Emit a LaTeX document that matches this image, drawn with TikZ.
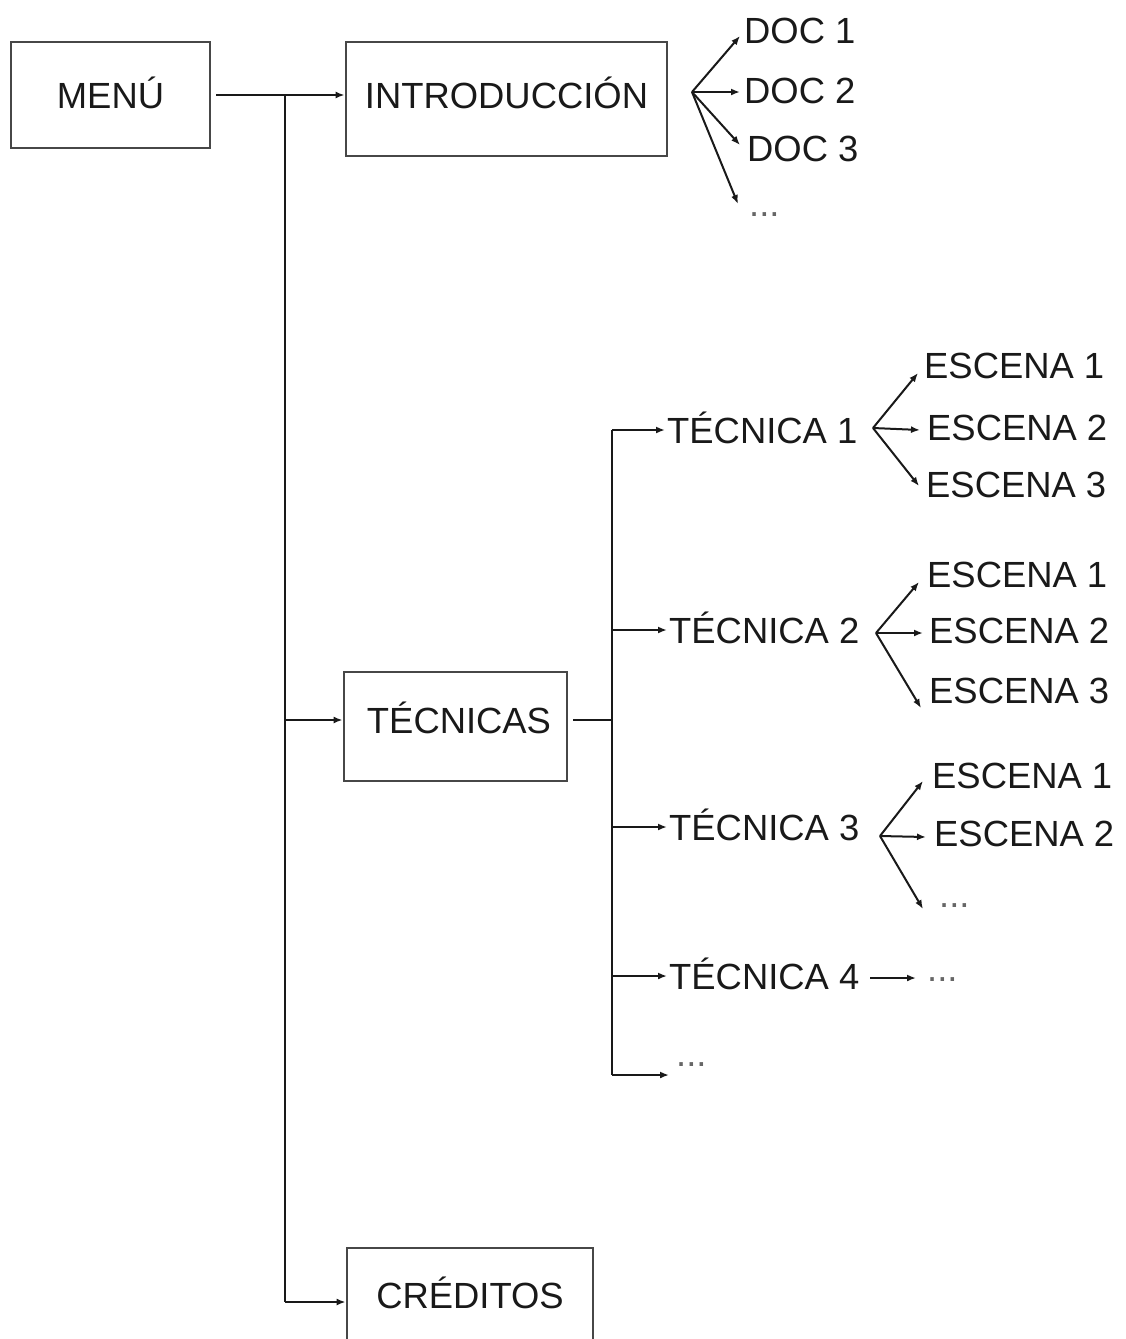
\documentclass[tikz,border=0pt]{standalone}
\usepackage{fontspec}
\setmainfont{Liberation Sans}
\usetikzlibrary{arrows.meta}
\begin{document}
\begin{tikzpicture}[x=1pt,y=-1pt,
  lbl/.style={inner sep=0pt, anchor=west, text height=26pt, text depth=0pt, font=\fontsize{36.4}{40}\selectfont, text=black!90},
  dotlbl/.style={lbl, anchor=base west, text=black!60},
  boxnode/.style={draw=black!72, line width=2.8pt, inner sep=0pt, font=\fontsize{36.4}{40}\selectfont, text=black!90, text height=26pt},
  ln/.style={line width=2pt, draw=black!90},
  arr/.style={ln, -{Latex[length=9pt,width=7pt]}}]
\useasboundingbox (0,0) rectangle (1125,1339);
\clip (0,0) rectangle (1125,1339);

% boxes
\node[boxnode, minimum width=199pt, minimum height=106pt, text depth=0pt] (menu) at (110.5,95) {MENÚ};
\node[boxnode, minimum width=321pt, minimum height=114pt, text depth=8pt] (intro) at (506.5,99) {INTRODUCCIÓN};
\node[boxnode, minimum width=223pt, minimum height=109pt, text depth=13pt] (tecn) at (455.5,726.5) {\hspace*{7pt}TÉCNICAS};
\node[boxnode, minimum width=246pt, minimum height=110pt, text depth=16pt] (cred) at (470,1303) {CRÉDITOS};

% DOC labels
\node[lbl] (d1) at (744,30) {DOC 1};
\node[lbl] (d2) at (744,90) {DOC 2};
\node[lbl] (d3) at (747,148) {DOC 3};
\node[dotlbl] (d4) at (749,216) {...};

% TECNICA labels
\node[lbl] (t1) at (667,430) {TÉCNICA 1};
\node[lbl] (t2) at (669,630) {TÉCNICA 2};
\node[lbl] (t3) at (669,827) {TÉCNICA 3};
\node[lbl] (t4) at (669,976) {TÉCNICA 4};
\node[dotlbl] (t4d) at (927,981) {...};
\node[dotlbl] (t5) at (676,1066) {...};

% ESCENA labels
\node[lbl] (e11) at (924,365) {ESCENA 1};
\node[lbl] (e12) at (927,427) {ESCENA 2};
\node[lbl] (e13) at (926,484) {ESCENA 3};
\node[lbl] (e21) at (927,574) {ESCENA 1};
\node[lbl] (e22) at (929,630) {ESCENA 2};
\node[lbl] (e23) at (929,690) {ESCENA 3};
\node[lbl] (e31) at (932,775) {ESCENA 1};
\node[lbl] (e32) at (934,833) {ESCENA 2};
\node[dotlbl] (e33) at (939,907) {...};

% junction coordinates
\coordinate (m0) at (216,95);
\coordinate (j1) at (285,95);
\coordinate (jt) at (285,720);
\coordinate (jc) at (285,1302);
\coordinate (ts) at (573,720);
\coordinate (j2) at (612,720);
\coordinate (v1) at (612,430);
\coordinate (v2) at (612,1075);
\coordinate (oD) at (692,92);
\coordinate (o1) at (873,428);
\coordinate (o2) at (876,633);
\coordinate (o3) at (880,836);
\coordinate (o4) at (870,978);

% main trunk
\draw[arr] (m0) -- (m0 -| intro.west);
\draw[ln] (j1) -- (jc);
\draw[arr] (jt) -- (jt -| tecn.west);
\draw[arr] (jc) -- (jc -| cred.west);

% TECNICAS trunk
\draw[ln] (ts) -- (j2);
\draw[ln] (v1) -- (v2);
\draw[arr] (v1) -- ([xshift=-2pt]t1.west);
\draw[arr] (v1 |- t2.west) -- ([xshift=-2pt]t2.west);
\draw[arr] (v1 |- t3.west) -- ([xshift=-2pt]t3.west);
\draw[arr] (v1 |- t4.west) -- ([xshift=-2pt]t4.west);
\draw[arr] (v2) -- ([shift={(-7,22)}]t5.west);
\draw[arr] (o4) -- ([shift={(-11,10)}]t4d.west);

% DOC fan
\draw[arr] (oD) -- ([shift={(-4,6)}]d1.west);
\draw[arr] (oD) -- ([shift={(-4,2)}]d2.west);
\draw[arr] (oD) -- ([shift={(-7,-3)}]d3.west);
\draw[arr] (oD) -- ([shift={(-11,1)}]d4.west);

% ESCENA fans
\draw[arr] (o1) -- ([shift={(-6,8)}]e11.west);
\draw[arr] (o1) -- ([shift={(-7,3)}]e12.west);
\draw[arr] (o1) -- ([shift={(-7,2)}]e13.west);
\draw[arr] (o2) -- ([shift={(-8,8)}]e21.west);
\draw[arr] (o2) -- ([shift={(-6,3)}]e22.west);
\draw[arr] (o2) -- ([shift={(-8,18)}]e23.west);
\draw[arr] (o3) -- ([shift={(-9,6)}]e31.west);
\draw[arr] (o3) -- ([shift={(-8,4)}]e32.west);
\draw[arr] (o3) -- ([shift={(-16,15)}]e33.west);
\end{tikzpicture}
\end{document}
